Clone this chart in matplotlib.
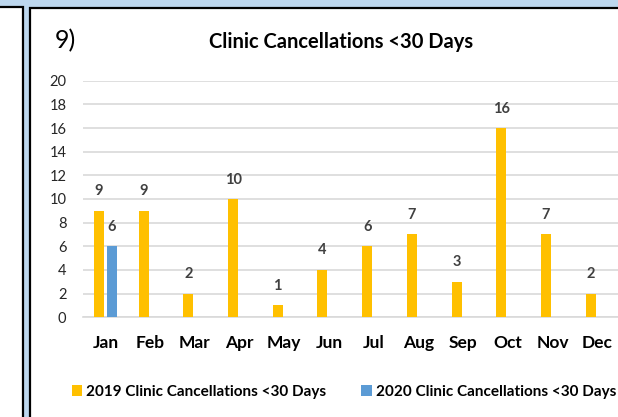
import matplotlib
matplotlib.use("Agg")
import matplotlib.pyplot as plt
from matplotlib.patches import Rectangle
import numpy as np

months = ["Jan", "Feb", "Mar", "Apr", "May", "Jun", "Jul", "Aug", "Sep", "Oct", "Nov", "Dec"]
cancel_2019 = [9, 9, 2, 10, 1, 4, 6, 7, 3, 16, 7, 2]
cancel_2020 = [6, None, None, None, None, None, None, None, None, None, None, None]
label_2019 = "2019 Clinic Cancellations <30 Days"
label_2020 = "2020 Clinic Cancellations <30 Days"
title = "Clinic Cancellations <30 Days"
panel_tag = "9)"
yticks = list(range(0, 21, 2))

plt.rcParams['font.family'] = ['Lato', 'DejaVu Sans']

W, H = 618, 417
fig = plt.figure(figsize=(W / 100, H / 100), dpi=100)
fig.patch.set_facecolor("#BDD7EE")

# background panels drawn in a full-figure axes
bg = fig.add_axes([0, 0, 1, 1])
bg.set_xlim(0, W)
bg.set_ylim(H, 0)
bg.axis("off")
bg.set_zorder(0)
for (x0, y0, w, h) in [(-10, 7, 33, 420), (30, 8, 600, 420)]:
    bg.add_patch(Rectangle((x0, y0), w, h, facecolor="white", edgecolor="black", linewidth=1.6))

ax = fig.add_axes([83 / W, (H - 317.3) / H, (619.6 - 83) / W, (317.3 - 80.7) / H])
ax.set_zorder(2)
ax.set_facecolor("none")

x = np.arange(len(months))
bw = 0.224
off = 0.145
y19 = np.array(cancel_2019, dtype=float)
y20 = np.array([np.nan if v is None else v for v in cancel_2020], dtype=float)

b1 = ax.bar(x - off, y19, width=bw, color="#FFC000", label=label_2019, zorder=3)
b2 = ax.bar(x + off, y20, width=bw, color="#5B9BD5", label=label_2020, zorder=3)

for xs, ys in [(x - off, y19), (x + off, y20)]:
    for xi, v in zip(xs, ys):
        if not np.isnan(v):
            ax.annotate(f"{int(v)}", (xi, v), xytext=(0, 9), textcoords="offset points",
                        ha="center", va="bottom", fontsize=10.5, fontweight="bold",
                        color="#404040")

ax.set_xlim(-0.5, len(months) - 0.5)
ax.set_ylim(0, 20)
ax.set_yticks(yticks)
ax.set_yticklabels([str(t) for t in yticks], fontsize=10.5, color="#262626")
ax.set_xticks(x)
ax.set_xticklabels(months, fontsize=12.5, color="black")
for lab in ax.get_xticklabels():
    lab.set_fontweight("bold")
ax.tick_params(axis="both", length=0)
ax.tick_params(axis="y", pad=12)
ax.tick_params(axis="x", pad=13)
ax.grid(axis="y", color="#D9D9D9", linewidth=1.2, zorder=0)
for s in ["top", "right", "left"]:
    ax.spines[s].set_visible(False)
ax.spines["bottom"].set_color("#D9D9D9")
ax.spines["bottom"].set_linewidth(1.2)

fig.text(341 / W, 1 - 42 / H, title, ha="center", va="center", fontsize=14.5,
         fontweight="bold", color="black")
fig.text(55 / W, 1 - 41 / H, panel_tag, ha="left", va="center", fontsize=18, color="black")

leg = fig.legend(handles=[b1, b2], loc="center", bbox_to_anchor=(344 / W, 1 - 392 / H),
                 ncol=2, frameon=False, fontsize=11, handlelength=0.7, handleheight=0.7,
                 handletextpad=0.25, columnspacing=2.3)
for t in leg.get_texts():
    t.set_fontweight("bold")
    t.set_color("black")

fig.savefig("out.png", dpi=100, facecolor=fig.get_facecolor())
